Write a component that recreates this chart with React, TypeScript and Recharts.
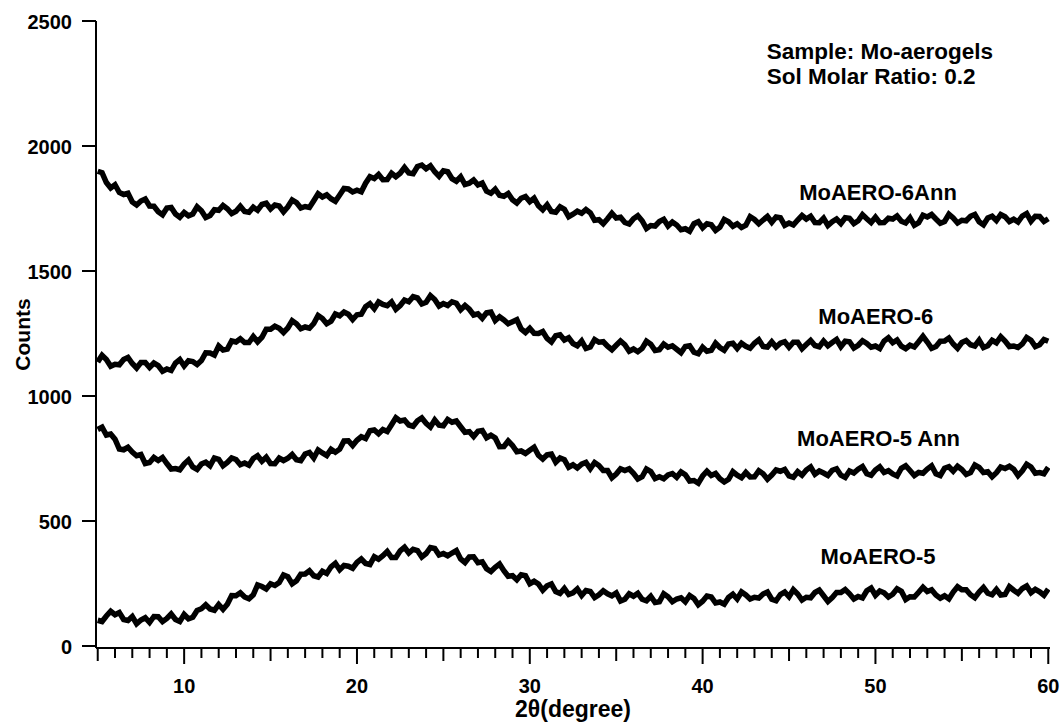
import React from 'react';
import { LineChart, Line, XAxis, YAxis, ReferenceDot } from 'recharts';

const FONT = '"Liberation Sans", Arial, Helvetica, sans-serif';

// Diffraction angle 2θ (degree): sampled every 0.5°, with in-between samples at +0.25°
const twoTheta = [
  5, 5.5, 6, 6.5, 7, 7.5, 8, 8.5, 9, 9.5, 10, 10.5, 11, 11.5, 12, 12.5, 13, 13.5, 14, 14.5,
  15, 15.5, 16, 16.5, 17, 17.5, 18, 18.5, 19, 19.5, 20, 20.5, 21, 21.5, 22, 22.5, 23, 23.5, 24, 24.5,
  25, 25.5, 26, 26.5, 27, 27.5, 28, 28.5, 29, 29.5, 30, 30.5, 31, 31.5, 32, 32.5, 33, 33.5, 34, 34.5,
  35, 35.5, 36, 36.5, 37, 37.5, 38, 38.5, 39, 39.5, 40, 40.5, 41, 41.5, 42, 42.5, 43, 43.5, 44, 44.5,
  45, 45.5, 46, 46.5, 47, 47.5, 48, 48.5, 49, 49.5, 50, 50.5, 51, 51.5, 52, 52.5, 53, 53.5, 54, 54.5,
  55, 55.5, 56, 56.5, 57, 57.5, 58, 58.5, 59, 59.5, 60,
];
const twoThetaMid = [
  5.25, 5.75, 6.25, 6.75, 7.25, 7.75, 8.25, 8.75, 9.25, 9.75, 10.25, 10.75, 11.25, 11.75, 12.25, 12.75,
  13.25, 13.75, 14.25, 14.75, 15.25, 15.75, 16.25, 16.75, 17.25, 17.75, 18.25, 18.75, 19.25, 19.75,
  20.25, 20.75, 21.25, 21.75, 22.25, 22.75, 23.25, 23.75, 24.25, 24.75, 25.25, 25.75, 26.25, 26.75,
  27.25, 27.75, 28.25, 28.75, 29.25, 29.75, 30.25, 30.75, 31.25, 31.75, 32.25, 32.75, 33.25, 33.75,
  34.25, 34.75, 35.25, 35.75, 36.25, 36.75, 37.25, 37.75, 38.25, 38.75, 39.25, 39.75, 40.25, 40.75,
  41.25, 41.75, 42.25, 42.75, 43.25, 43.75, 44.25, 44.75, 45.25, 45.75, 46.25, 46.75, 47.25, 47.75,
  48.25, 48.75, 49.25, 49.75, 50.25, 50.75, 51.25, 51.75, 52.25, 52.75, 53.25, 53.75, 54.25, 54.75,
  55.25, 55.75, 56.25, 56.75, 57.25, 57.75, 58.25, 58.75, 59.25, 59.75,
];

// Counts (offset patterns)
const moAero6Ann = [
  1899, 1854, 1845, 1806, 1776, 1780, 1760, 1737, 1752, 1728, 1734, 1728, 1741, 1722, 1743, 1749, 1739, 1738, 1755, 1766,
  1748, 1760, 1757, 1774, 1758, 1781, 1796, 1789, 1804, 1828, 1823, 1851, 1870, 1865, 1891, 1891, 1892, 1918, 1909, 1897,
  1901, 1869, 1877, 1851, 1844, 1819, 1827, 1799, 1785, 1791, 1777, 1761, 1765, 1735, 1747, 1727, 1731, 1733, 1705, 1709,
  1712, 1694, 1709, 1701, 1682, 1698, 1680, 1684, 1669, 1689, 1673, 1685, 1675, 1697, 1689, 1683, 1706, 1704, 1695, 1713,
  1692, 1704, 1708, 1694, 1711, 1697, 1690, 1711, 1701, 1709, 1715, 1694, 1708, 1699, 1713, 1693, 1716, 1708, 1698, 1712,
  1703, 1719, 1697, 1712, 1702, 1717, 1707, 1720, 1699, 1718, 1709,
];
const moAero6AnnMid = [
  1893, 1832, 1814, 1811, 1764, 1788, 1759, 1725, 1754, 1715, 1721, 1757, 1714, 1745, 1762, 1730, 1759, 1735, 1743, 1771,
  1764, 1737, 1784, 1752, 1754, 1809, 1805, 1779, 1830, 1816, 1817, 1877, 1886, 1866, 1877, 1914, 1889, 1924, 1921, 1879,
  1897, 1859, 1846, 1864, 1852, 1811, 1803, 1810, 1772, 1798, 1791, 1745, 1738, 1757, 1717, 1739, 1746, 1703, 1689, 1731,
  1715, 1688, 1721, 1670, 1680, 1707, 1696, 1665, 1659, 1697, 1689, 1662, 1706, 1679, 1674, 1717, 1689, 1718, 1716, 1683,
  1684, 1722, 1719, 1693, 1682, 1708, 1713, 1690, 1725, 1694, 1693, 1711, 1720, 1692, 1683, 1723, 1726, 1691, 1727, 1692,
  1701, 1726, 1685, 1719, 1726, 1698, 1696, 1730, 1719, 1698,
];

const moAero6 = [
  1136, 1146, 1127, 1146, 1130, 1134, 1114, 1122, 1108, 1132, 1120, 1138, 1142, 1172, 1200, 1188, 1216, 1214, 1238, 1235,
  1267, 1271, 1272, 1289, 1276, 1290, 1310, 1299, 1321, 1327, 1325, 1357, 1349, 1366, 1376, 1362, 1377, 1392, 1375, 1386,
  1370, 1377, 1345, 1347, 1329, 1333, 1302, 1304, 1297, 1268, 1271, 1250, 1230, 1241, 1224, 1210, 1220, 1196, 1215, 1199,
  1203, 1205, 1188, 1190, 1207, 1185, 1195, 1187, 1198, 1175, 1195, 1183, 1194, 1208, 1190, 1199, 1211, 1198, 1217, 1211,
  1195, 1215, 1206, 1202, 1220, 1214, 1197, 1217, 1203, 1210, 1200, 1220, 1213, 1199, 1203, 1217, 1216, 1198, 1220, 1208,
  1214, 1205, 1223, 1201, 1213, 1220, 1200, 1208, 1223, 1205, 1219,
];
const moAero6Mid = [
  1163, 1119, 1125, 1154, 1112, 1134, 1132, 1099, 1102, 1146, 1141, 1126, 1173, 1164, 1184, 1220, 1229, 1214, 1217, 1267,
  1279, 1254, 1301, 1269, 1271, 1322, 1289, 1328, 1336, 1306, 1327, 1369, 1376, 1361, 1347, 1384, 1397, 1368, 1401, 1360,
  1362, 1371, 1362, 1324, 1311, 1336, 1317, 1289, 1305, 1254, 1251, 1258, 1216, 1245, 1233, 1201, 1190, 1226, 1217, 1185,
  1220, 1179, 1177, 1219, 1182, 1208, 1201, 1173, 1201, 1169, 1179, 1211, 1183, 1211, 1211, 1191, 1225, 1196, 1196, 1217,
  1215, 1189, 1222, 1197, 1201, 1226, 1219, 1192, 1221, 1195, 1190, 1233, 1224, 1189, 1196, 1239, 1191, 1219, 1232, 1191,
  1222, 1200, 1194, 1223, 1237, 1198, 1194, 1234, 1198, 1226,
];

const moAero5Ann = [
  866, 844, 827, 785, 776, 766, 734, 742, 730, 710, 728, 716, 728, 721, 747, 734, 746, 732, 750, 739,
  730, 752, 751, 745, 768, 752, 772, 787, 787, 821, 823, 830, 864, 866, 885, 900, 884, 901, 891, 904,
  881, 895, 877, 857, 859, 833, 832, 798, 802, 780, 783, 763, 765, 735, 745, 725, 727, 709, 722, 702,
  688, 702, 691, 677, 698, 677, 684, 675, 685, 662, 680, 682, 669, 667, 683, 694, 677, 689, 684, 699,
  680, 697, 704, 687, 692, 703, 683, 700, 707, 689, 704, 694, 688, 711, 702, 694, 708, 689, 711, 699,
  706, 694, 714, 697, 693, 710, 707, 701, 716, 694, 715,
];
const moAero5AnnMid = [
  875, 848, 788, 795, 761, 730, 754, 754, 708, 705, 744, 706, 735, 752, 721, 752, 725, 723, 761, 755,
  729, 742, 766, 741, 774, 784, 762, 775, 820, 802, 837, 861, 849, 858, 913, 904, 879, 912, 876, 883,
  906, 900, 855, 838, 862, 843, 797, 820, 777, 770, 795, 748, 768, 752, 715, 712, 734, 734, 702, 673,
  709, 709, 668, 708, 670, 669, 690, 696, 660, 651, 699, 690, 656, 697, 673, 676, 701, 667, 704, 706,
  675, 683, 716, 700, 682, 709, 674, 692, 718, 683, 717, 701, 680, 721, 682, 691, 721, 682, 717, 719,
  686, 724, 694, 677, 716, 719, 682, 727, 691, 689,
];

const moAero5 = [
  103, 120, 125, 106, 118, 104, 94, 117, 110, 106, 126, 115, 149, 148, 166, 167, 201, 196, 205, 238,
  249, 254, 277, 261, 288, 281, 299, 317, 305, 319, 334, 330, 357, 361, 354, 381, 372, 382, 370, 390,
  370, 372, 348, 356, 333, 309, 315, 301, 281, 285, 249, 248, 241, 218, 230, 213, 202, 218, 205, 209,
  212, 187, 199, 187, 199, 177, 197, 188, 177, 190, 179, 196, 176, 194, 188, 204, 195, 208, 187, 206,
  197, 208, 195, 214, 201, 194, 214, 209, 198, 221, 203, 213, 207, 219, 197, 215, 218, 204, 201, 216,
  225, 205, 216, 211, 226, 206, 223, 230, 213, 217, 228,
];
const moAero5Mid = [
  98, 139, 134, 102, 89, 113, 118, 98, 128, 98, 109, 142, 165, 143, 147, 202, 213, 189, 244, 228,
  242, 284, 249, 287, 301, 276, 290, 331, 322, 311, 348, 326, 347, 378, 354, 395, 387, 356, 394, 364,
  361, 382, 334, 357, 337, 298, 328, 279, 265, 281, 259, 223, 248, 210, 206, 228, 222, 194, 221, 201,
  180, 209, 211, 181, 174, 209, 177, 193, 202, 165, 200, 172, 167, 207, 216, 188, 192, 216, 181, 216,
  225, 184, 193, 224, 178, 214, 226, 188, 192, 232, 220, 196, 229, 186, 196, 235, 225, 191, 189, 237,
  225, 193, 234, 205, 204, 237, 211, 240, 227, 203,
];

// Axis ticks: minor every degree, labels every 10°
const xTicks = [
  5, 6, 7, 8, 9, 10, 11, 12, 13, 14, 15, 16, 17, 18, 19, 20, 21, 22, 23, 24, 25, 26, 27, 28, 29, 30,
  31, 32, 33, 34, 35, 36, 37, 38, 39, 40, 41, 42, 43, 44, 45, 46, 47, 48, 49, 50, 51, 52, 53, 54, 55,
  56, 57, 58, 59, 60,
];
const yTicks = [0, 500, 1000, 1500, 2000, 2500];

const X_DOMAIN: [number, number] = [4.9, 60.1];
const Y_DOMAIN: [number, number] = [-8, 2500];

// Pattern names, placed in data coordinates (centre of text)
const seriesNames = ['MoAERO-6Ann', 'MoAERO-6', 'MoAERO-5 Ann', 'MoAERO-5'];
const nameX = [50.15, 50.02, 50.18, 50.15];
const nameY = [1815, 1318, 832, 358];

// Sample note, left-aligned text lines
const noteLines = ['Sample: Mo-aerogels', 'Sol Molar Ratio: 0.2'];
const noteX = 43.71;
const noteY = [2380, 2278];

// Interleave the 0.5° samples with the in-between samples, in angle order
const data: Array<Record<string, number>> = [];
twoTheta.forEach((t, i) => {
  data.push({ t, a6ann: moAero6Ann[i], a6: moAero6[i], a5ann: moAero5Ann[i], a5: moAero5[i] });
  if (i < twoThetaMid.length) {
    data.push({
      t: twoThetaMid[i],
      a6ann: moAero6AnnMid[i],
      a6: moAero6Mid[i],
      a5ann: moAero5AnnMid[i],
      a5: moAero5Mid[i],
    });
  }
});

const seriesKeys = ['a6ann', 'a6', 'a5ann', 'a5'];

const boldText: React.CSSProperties = {
  fontFamily: FONT,
  fontWeight: 700,
  fill: '#000',
};

const XTick = (props: any) => {
  const { x, y, payload } = props;
  const v = payload.value as number;
  const major = v % 10 === 0;
  const mid = v % 5 === 0;
  const len = major ? 16 : mid ? 13 : 10;
  return (
    <g>
      <line x1={x} y1={y} x2={x} y2={y + len} stroke="#000" strokeWidth={2} />
      {major && (
        <text
          x={x}
          y={y + 38}
          textAnchor="middle"
          dominantBaseline="central"
          style={{ ...boldText, fontSize: 20 }}
        >
          {v}
        </text>
      )}
    </g>
  );
};

const YTick = (props: any) => {
  const { x, y, payload } = props;
  return (
    <text
      x={x}
      y={y + 1}
      textAnchor="end"
      dominantBaseline="central"
      style={{ ...boldText, fontSize: 20 }}
    >
      {payload.value}
    </text>
  );
};

const pointText = (text: string, anchor: 'middle' | 'start', size: number) => (p: any) => {
  const vb = p.viewBox;
  return (
    <text
      x={vb.x + (vb.width || 0) / 2}
      y={vb.y + (vb.height || 0) / 2}
      textAnchor={anchor}
      dominantBaseline="central"
      style={{ ...boldText, fontSize: size }}
    >
      {text}
    </text>
  );
};

export default function App() {
  return (
    <div style={{ position: 'absolute', left: 0, top: 0, width: 1060, height: 722, background: '#fff' }}>
      <LineChart
        width={1060}
        height={722}
        data={data}
        margin={{ top: 21, right: 10, bottom: 14, left: 0 }}
      >
        <XAxis
          dataKey="t"
          type="number"
          domain={X_DOMAIN}
          allowDataOverflow
          ticks={xTicks}
          interval={0}
          tickSize={0}
          tickMargin={0}
          tickLine={false}
          tick={<XTick />}
          height={60}
          axisLine={{ stroke: '#000', strokeWidth: 2 }}
          label={{
            content: (p: any) => {
              const vb = p.viewBox;
              return (
                <text
                  x={vb.x + vb.width / 2}
                  y={709}
                  textAnchor="middle"
                  dominantBaseline="central"
                  style={{ ...boldText, fontSize: 23 }}
                >
                  2θ(degree)
                </text>
              );
            },
          }}
        />
        <XAxis
          xAxisId="top"
          orientation="top"
          type="number"
          domain={X_DOMAIN}
          allowDataOverflow
          height={0}
          tick={false}
          tickLine={false}
          axisLine={{ stroke: '#000', strokeWidth: 2 }}
        />
        <YAxis
          type="number"
          domain={Y_DOMAIN}
          allowDataOverflow
          ticks={yTicks}
          interval={0}
          width={96}
          tickSize={14}
          tickMargin={10}
          tickLine={{ stroke: '#000', strokeWidth: 2 }}
          axisLine={{ stroke: '#000', strokeWidth: 2 }}
          tick={<YTick />}
          label={{
            content: (p: any) => {
              const vb = p.viewBox;
              const cy = vb.y + vb.height / 2;
              return (
                <text
                  x={22}
                  y={cy}
                  transform={`rotate(-90, 22, ${cy})`}
                  textAnchor="middle"
                  dominantBaseline="central"
                  style={{ ...boldText, fontSize: 21 }}
                >
                  Counts
                </text>
              );
            },
          }}
        />
        <YAxis
          yAxisId="right"
          orientation="right"
          type="number"
          domain={Y_DOMAIN}
          allowDataOverflow
          width={0}
          tick={false}
          tickLine={false}
          axisLine={{ stroke: '#000', strokeWidth: 2 }}
        />
        {seriesKeys.map((k) => (
          <Line
            key={k}
            dataKey={k}
            type="linear"
            stroke="#000"
            strokeWidth={5.5}
            dot={false}
            activeDot={false}
            isAnimationActive={false}
          />
        ))}
        {seriesNames.map((name, i) => (
          <ReferenceDot
            key={name}
            x={nameX[i]}
            y={nameY[i]}
            r={0}
            fill="none"
            stroke="none"
            label={{ content: pointText(name, 'middle', 22) }}
          />
        ))}
        {noteLines.map((line, i) => (
          <ReferenceDot
            key={line}
            x={noteX}
            y={noteY[i]}
            r={0}
            fill="none"
            stroke="none"
            label={{ content: pointText(line, 'start', 22.5) }}
          />
        ))}
      </LineChart>
    </div>
  );
}
